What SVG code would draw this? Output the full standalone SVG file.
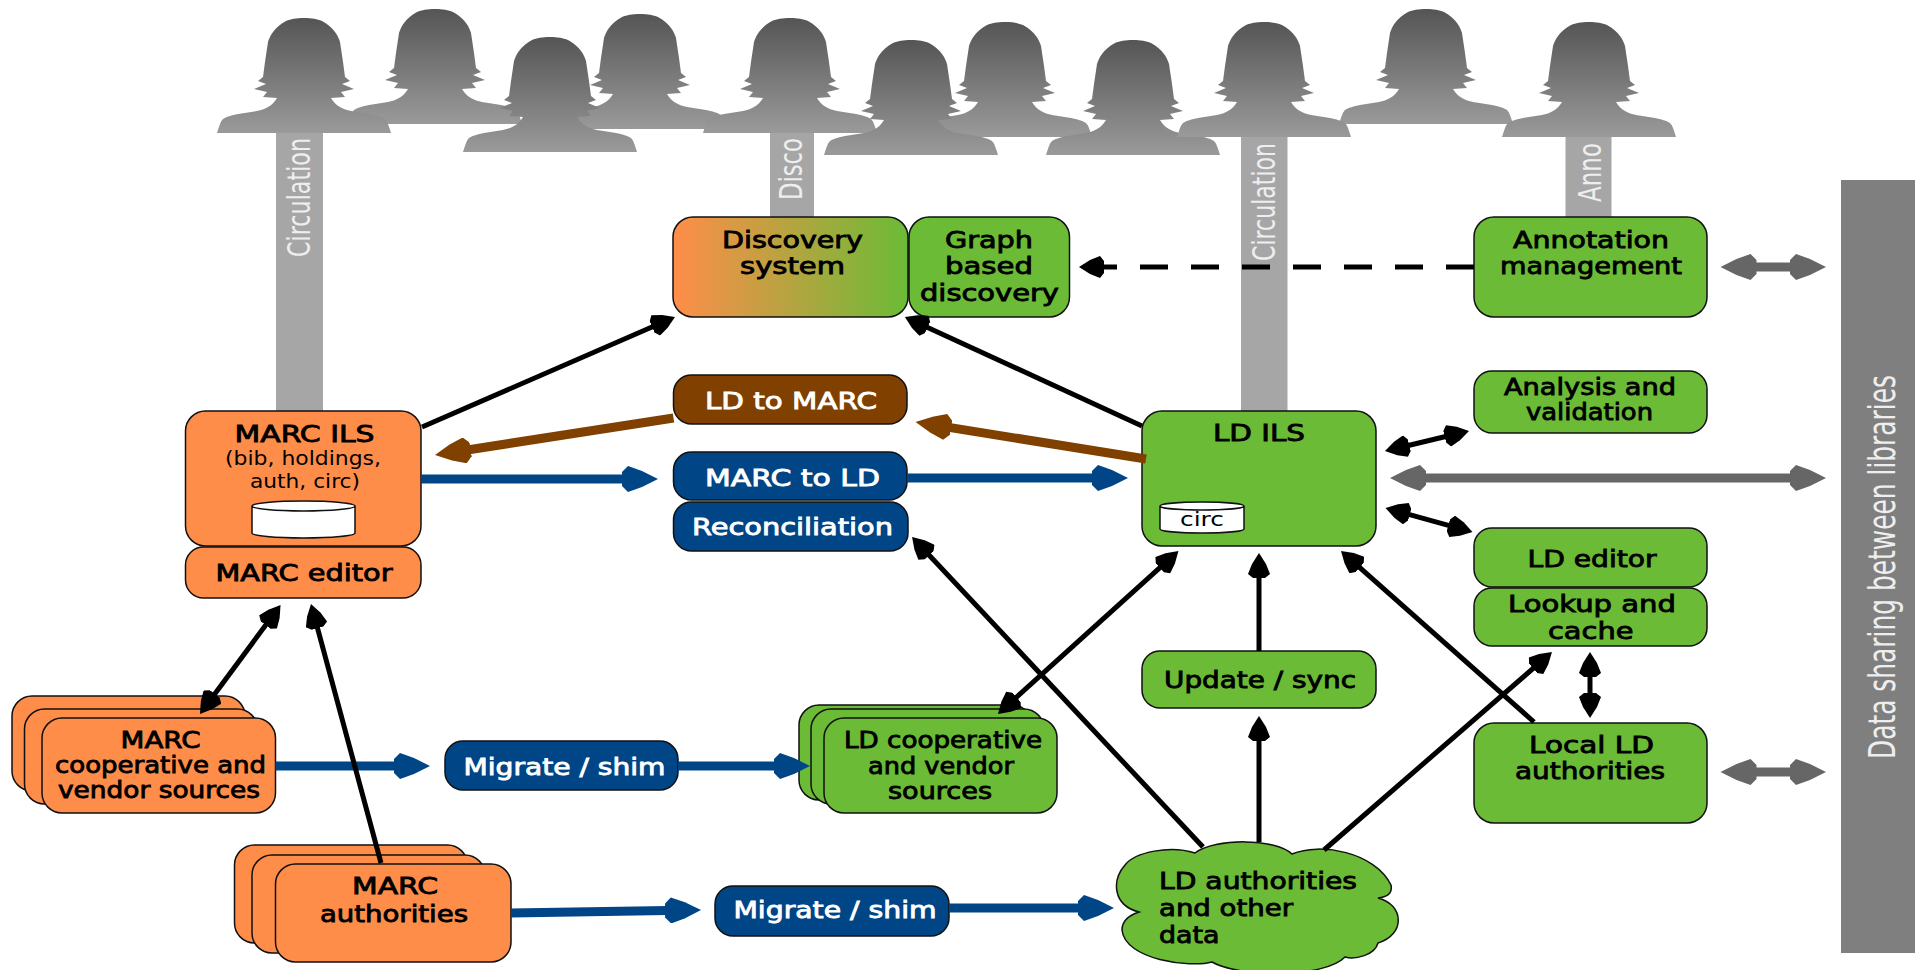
<svg xmlns="http://www.w3.org/2000/svg" width="1915" height="970" viewBox="0 0 1915 970">
<style>
text{font-family:"DejaVu Sans","Liberation Sans",sans-serif;font-size:23px;font-weight:400;fill:#000;stroke:#000;stroke-width:.85px}
.w{fill:#fff;stroke:#fff}
.l{font-size:19px;stroke:none}
.v{fill:#eee;stroke:none;font-size:32px}
.box{stroke:#111;stroke-width:1.5}
.o{fill:#ff8d4a}.g{fill:#6bbb36}.b{fill:#004586}.br{fill:#7f4000}
.bar{fill:#a6a6a6}
.k{stroke:#000;stroke-width:5;fill:none;marker-end:url(#hk)}
.kk{marker-start:url(#hk)}
.blue{stroke:#004586;stroke-width:9;fill:none;marker-end:url(#hb)}
.brown{stroke:#7f4000;stroke-width:9;fill:none;marker-end:url(#hr)}
.gray{stroke:#666;stroke-width:9;fill:none;marker-end:url(#hg);marker-start:url(#hg)}
</style>
<defs>
<linearGradient id="pg" x1="0" y1="0" x2="0" y2="1"><stop offset="0" stop-color="#555"/><stop offset="1" stop-color="#9a9a9a"/></linearGradient>
<linearGradient id="og"><stop offset="0" stop-color="#ff8d4a"/><stop offset="1" stop-color="#6bbb36"/></linearGradient>
<path id="person" fill="url(#pg)" d="M0,0C8,0 13,1 18,3C24,6 28,10 31,14C34,18 35,21 36,24L39,44L41,59L46,63L38,66L50,71L37,74L41,79L27,80C29,83 32,87 36,89C39,91 43,92 47,93L66,96C72,97 78,99 81,101C84,104 85,109 87,115L-87,115C-85,109 -84,104 -81,101C-78,99 -72,97 -66,96L-47,93C-43,92 -39,91 -36,89C-32,87 -29,83 -27,80L-41,79L-37,74L-50,71L-38,66L-46,63L-41,59L-39,44L-36,24C-35,21 -34,18 -31,14C-28,10 -24,6 -18,3C-13,1 -8,0 0,0Z"/>
<marker id="hk" markerUnits="userSpaceOnUse" markerWidth="26" markerHeight="22" viewBox="0 0 26 22" refX="15" refY="11" orient="auto-start-reverse"><path d="M0,5L4,0L14,4L25,11L14,18L4,22L0,17Z" fill="#000"/></marker>
<marker id="hb" markerUnits="userSpaceOnUse" markerWidth="38" markerHeight="26" viewBox="0 0 38 26" refX="18" refY="13" orient="auto-start-reverse"><path d="M0,6L6,0L20,5L36,13L20,21L6,26L0,20Z" fill="#004586"/></marker>
<marker id="hr" markerUnits="userSpaceOnUse" markerWidth="38" markerHeight="26" viewBox="0 0 38 26" refX="18" refY="13" orient="auto-start-reverse"><path d="M0,6L6,0L20,5L36,13L20,21L6,26L0,20Z" fill="#7f4000"/></marker>
<marker id="hg" markerUnits="userSpaceOnUse" markerWidth="38" markerHeight="26" viewBox="0 0 38 26" refX="18" refY="13" orient="auto-start-reverse"><path d="M0,6L6,0L20,5L36,13L20,21L6,26L0,20Z" fill="#666"/></marker>
</defs>
<g id="channels">
<rect class="bar" x="276" y="130" width="47" height="282"/>
<rect class="bar" x="770" y="130" width="44" height="88"/>
<rect class="bar" x="1241" y="135" width="46.500" height="277"/>
<rect class="bar" x="1565.500" y="135" width="46" height="83"/>
<text class="v" transform="translate(310,257) rotate(-90)" textLength="119" lengthAdjust="spacingAndGlyphs">Circulation</text>
<text class="v" transform="translate(802,200) rotate(-90)" textLength="62" lengthAdjust="spacingAndGlyphs">Disco</text>
<text class="v" transform="translate(1275,261) rotate(-90)" textLength="118" lengthAdjust="spacingAndGlyphs">Circulation</text>
<text class="v" transform="translate(1601,202) rotate(-90)" textLength="59" lengthAdjust="spacingAndGlyphs">Anno</text>
</g>
<g id="users">
<use href="#person" x="435" y="9"/>
<use href="#person" x="640" y="14"/>
<use href="#person" x="304" y="18"/>
<use href="#person" x="550" y="37"/>
<use href="#person" x="1005" y="22"/>
<use href="#person" x="790" y="18"/>
<use href="#person" x="911" y="40"/>
<use href="#person" x="1426" y="9"/>
<use href="#person" x="1133" y="40"/>
<use href="#person" x="1264" y="22"/>
<use href="#person" x="1589" y="22"/>
</g>
<g id="sharing-bar">
<rect x="1841" y="180" width="74" height="773" fill="#7f7f7f"/>
<text class="v" style="font-size:38px" transform="translate(1895,759) rotate(-90)" textLength="384" lengthAdjust="spacingAndGlyphs">Data sharing between libraries</text>
</g>
<g id="discovery-system">
<rect class="box" x="673" y="217" width="235" height="100" rx="20" fill="url(#og)"/>
<text x="722" y="248" textLength="141" lengthAdjust="spacingAndGlyphs">Discovery</text>
<text x="740" y="274" textLength="105" lengthAdjust="spacingAndGlyphs">system</text>
</g>
<g id="graph-discovery">
<rect class="box g" x="909" y="217" width="160.500" height="100" rx="20"/>
<text x="945" y="248" textLength="88" lengthAdjust="spacingAndGlyphs">Graph</text>
<text x="945" y="274" textLength="88" lengthAdjust="spacingAndGlyphs">based</text>
<text x="920" y="301" textLength="139" lengthAdjust="spacingAndGlyphs">discovery</text>
</g>
<g id="annotation">
<rect class="box g" x="1474" y="217" width="233" height="100" rx="20"/>
<text x="1513" y="248" textLength="156" lengthAdjust="spacingAndGlyphs">Annotation</text>
<text x="1500" y="274" textLength="182" lengthAdjust="spacingAndGlyphs">management</text>
</g>
<g id="analysis">
<rect class="box g" x="1474" y="371" width="233" height="62" rx="18"/>
<text x="1504" y="395" textLength="172" lengthAdjust="spacingAndGlyphs">Analysis and</text>
<text x="1526" y="420" textLength="127" lengthAdjust="spacingAndGlyphs">validation</text>
</g>
<g id="marc-ils">
<rect class="box o" x="185.500" y="411" width="235.500" height="135" rx="20"/>
<text x="234.500" y="442" textLength="140" lengthAdjust="spacingAndGlyphs">MARC ILS</text>
<text class="l" x="225" y="465" textLength="156" lengthAdjust="spacingAndGlyphs">(bib, holdings,</text>
<text class="l" x="250" y="488" textLength="110" lengthAdjust="spacingAndGlyphs">auth, circ)</text>
<path class="box" fill="#fff" d="M252,506V533A51.500,5 0 0 0 355,533V506A51.500,5 0 0 0 252,506A51.500,5 0 0 0 355,506"/>
</g>
<g id="marc-editor">
<rect class="box o" x="185.500" y="547" width="235.500" height="51" rx="18"/>
<text x="215.500" y="581" textLength="177" lengthAdjust="spacingAndGlyphs">MARC editor</text>
</g>
<g id="ld-to-marc">
<rect class="box br" x="673.500" y="375" width="233.500" height="49" rx="18"/>
<text class="w" x="705" y="409" textLength="172" lengthAdjust="spacingAndGlyphs">LD to MARC</text>
</g>
<g id="marc-to-ld">
<rect class="box b" x="673.500" y="452" width="233.500" height="48" rx="18"/>
<text class="w" x="705" y="486" textLength="175" lengthAdjust="spacingAndGlyphs">MARC to LD</text>
</g>
<g id="reconciliation">
<rect class="box b" x="673.500" y="502" width="234.500" height="49" rx="18"/>
<text class="w" x="692" y="535" textLength="201" lengthAdjust="spacingAndGlyphs">Reconciliation</text>
</g>
<g id="ld-ils">
<rect class="box g" x="1142" y="411" width="234" height="135" rx="20"/>
<text x="1213" y="441" textLength="92" lengthAdjust="spacingAndGlyphs">LD ILS</text>
<path class="box" fill="#fff" d="M1160,506V529A42,4 0 0 0 1244,529V506A42,4 0 0 0 1160,506A42,4 0 0 0 1244,506"/>
<text class="l" x="1180" y="526" textLength="44" lengthAdjust="spacingAndGlyphs">circ</text>
</g>
<g id="ld-editor">
<rect class="box g" x="1474" y="528" width="233" height="59" rx="18"/>
<text x="1527.500" y="567" textLength="129" lengthAdjust="spacingAndGlyphs">LD editor</text>
</g>
<g id="lookup-cache">
<rect class="box g" x="1474" y="588" width="233" height="58" rx="18"/>
<text x="1508" y="612" textLength="168" lengthAdjust="spacingAndGlyphs">Lookup and</text>
<text x="1548" y="639" textLength="85.500" lengthAdjust="spacingAndGlyphs">cache</text>
</g>
<g id="local-ld">
<rect class="box g" x="1474" y="723" width="233" height="100" rx="20"/>
<text x="1529" y="753" textLength="125" lengthAdjust="spacingAndGlyphs">Local LD</text>
<text x="1515" y="779" textLength="150" lengthAdjust="spacingAndGlyphs">authorities</text>
</g>
<g id="update-sync">
<rect class="box g" x="1142" y="651" width="234" height="57" rx="18"/>
<text x="1164" y="688" textLength="192" lengthAdjust="spacingAndGlyphs">Update / sync</text>
</g>
<g id="ld-coop">
<rect class="box g" x="799" y="705" width="233" height="95" rx="20"/>
<rect class="box g" x="811" y="709" width="233" height="95" rx="20"/>
<rect class="box g" x="824" y="718" width="233" height="95" rx="20"/>
<text x="844" y="748" textLength="198" lengthAdjust="spacingAndGlyphs">LD cooperative</text>
<text x="868" y="774" textLength="146" lengthAdjust="spacingAndGlyphs">and vendor</text>
<text x="888" y="799" textLength="104" lengthAdjust="spacingAndGlyphs">sources</text>
</g>
<g id="marc-coop">
<rect class="box o" x="12" y="696" width="233" height="95" rx="20"/>
<rect class="box o" x="24.500" y="709" width="233" height="95" rx="20"/>
<rect class="box o" x="42" y="718" width="233.500" height="95" rx="20"/>
<text x="120.500" y="748" textLength="80" lengthAdjust="spacingAndGlyphs">MARC</text>
<text x="55" y="773" textLength="211" lengthAdjust="spacingAndGlyphs">cooperative and</text>
<text x="58" y="798" textLength="202" lengthAdjust="spacingAndGlyphs">vendor sources</text>
</g>
<g id="migrate-1">
<rect class="box b" x="445" y="741" width="233" height="49" rx="18"/>
<text class="w" x="463.500" y="775" textLength="202" lengthAdjust="spacingAndGlyphs">Migrate / shim</text>
</g>
<g id="marc-authorities">
<rect class="box o" x="234.500" y="845" width="233" height="98" rx="20"/>
<rect class="box o" x="252" y="855" width="233" height="98" rx="20"/>
<rect class="box o" x="275.500" y="864" width="235.500" height="98" rx="20"/>
<text x="352" y="894" textLength="86" lengthAdjust="spacingAndGlyphs">MARC</text>
<text x="320" y="922" textLength="148" lengthAdjust="spacingAndGlyphs">authorities</text>
</g>
<g id="migrate-2">
<rect class="box b" x="715" y="886" width="234" height="50" rx="18"/>
<text class="w" x="733.500" y="918" textLength="203" lengthAdjust="spacingAndGlyphs">Migrate / shim</text>
</g>
<g id="ld-authorities">
<path class="box g" d="M1195,853C1215,838 1275,838 1292,854C1320,842 1375,852 1391,885C1393,895 1385,897 1378,898C1405,905 1405,935 1378,943C1375,955 1355,960 1345,957C1325,978 1240,978 1212,962C1190,968 1125,960 1122,930C1122,920 1130,915 1139,912C1112,905 1112,880 1125,865C1135,852 1170,845 1195,853Z"/>
<text x="1159" y="889" textLength="198" lengthAdjust="spacingAndGlyphs">LD authorities</text>
<text x="1159" y="916" textLength="134" lengthAdjust="spacingAndGlyphs">and other</text>
<text x="1159" y="943" textLength="60.500" lengthAdjust="spacingAndGlyphs">data</text>
</g>
<g id="connectors">
<path class="brown" d="M673.500,418L452.800,452.200"/>
<path class="brown" d="M1146,459L933.300,424.900"/>
<path class="blue" d="M421,479H640"/>
<path class="blue" d="M907,478H1110"/>
<path class="blue" d="M275.500,766H412"/>
<path class="blue" d="M678,766H792"/>
<path class="blue" d="M511,913L683,910.300"/>
<path class="blue" d="M949,908H1096"/>
<path class="gray" d="M1738.500,267H1808"/>
<path class="gray" d="M1408,478H1808"/>
<path class="gray" d="M1738.500,772H1808"/>
<path class="k" d="M422,427L665.800,321"/>
<path class="k" d="M1142,426L914,321.200"/>
<path class="k" style="stroke-dasharray:28 23" d="M1474,267H1089"/>
<path class="k kk" d="M1394.700,448.700L1459.300,433.300"/>
<path class="k kk" d="M1395.200,510.700L1462.800,529.300"/>
<path class="k kk" d="M1590,662V708"/>
<path class="k" d="M1259,651V563"/>
<path class="k" d="M1259,842V726"/>
<path class="k" d="M1203,847L918.900,544.300"/>
<path class="k" d="M1324,850L1544.400,658.600"/>
<path class="k" d="M1534,722L1348.500,557.600"/>
<path class="k kk" d="M1171,557.700L1005.400,707.300"/>
<path class="k kk" d="M274.600,613L205.900,706"/>
<path class="k" d="M381,863L313.600,613.700"/>
</g>
</svg>
